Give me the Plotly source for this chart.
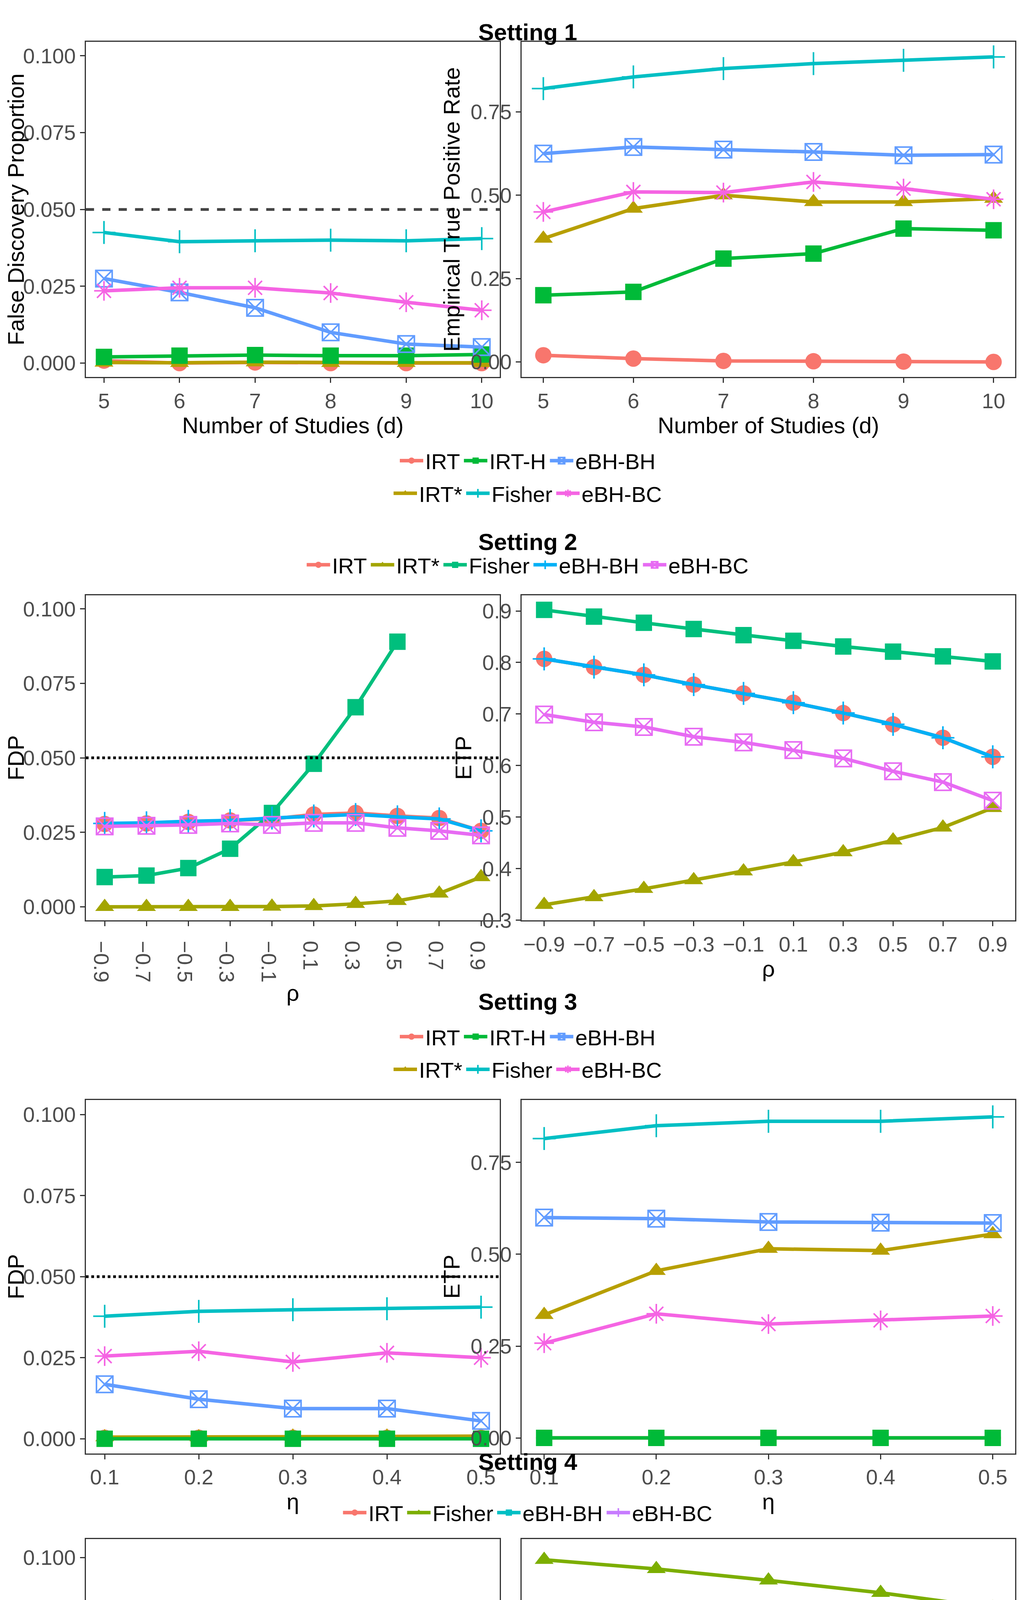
import plotly.graph_objects as go

# ---- data ----
d_vals = [5, 6, 7, 8, 9, 10]
s1_methods = ["IRT", "IRT*", "IRT-H", "Fisher", "eBH-BH", "eBH-BC"]
s1_fdp = {
    "IRT": [0.0008, 0.0000, 0.0002, 0.0000, 0.0000, 0.0000],
    "IRT*": [0.0002, 0.0001, 0.0003, 0.0001, 0.0001, 0.0001],
    "IRT-H": [0.0020, 0.0024, 0.0026, 0.0024, 0.0024, 0.0028],
    "Fisher": [0.0425, 0.0395, 0.0398, 0.0400, 0.0398, 0.0405],
    "eBH-BH": [0.0275, 0.0230, 0.0180, 0.0100, 0.0062, 0.0052],
    "eBH-BC": [0.0235, 0.0245, 0.0245, 0.0228, 0.0198, 0.0172],
}
s1_etp = {
    "IRT": [0.020, 0.010, 0.003, 0.002, 0.001, 0.000],
    "IRT*": [0.37, 0.46, 0.50, 0.48, 0.48, 0.49],
    "IRT-H": [0.20, 0.21, 0.31, 0.325, 0.40, 0.395],
    "Fisher": [0.82, 0.855, 0.88, 0.895, 0.905, 0.915],
    "eBH-BH": [0.625, 0.645, 0.637, 0.630, 0.620, 0.622],
    "eBH-BC": [0.450, 0.510, 0.508, 0.540, 0.520, 0.488],
}

rho_vals = [-0.9, -0.7, -0.5, -0.3, -0.1, 0.1, 0.3, 0.5, 0.7, 0.9]
s2_methods = ["IRT", "IRT*", "Fisher", "eBH-BH", "eBH-BC"]
s2_fdp = {
    "IRT": [0.0278, 0.0280, 0.0285, 0.0290, 0.0295, 0.0310, 0.0315, 0.0305, 0.0298, 0.0255],
    "IRT*": [0.0, 0.0, 0.0, 0.0, 0.0001, 0.0003, 0.0010, 0.0020, 0.0045, 0.0100],
    "Fisher": [0.0100, 0.0105, 0.0130, 0.0195, 0.0315, 0.0480, 0.0670, 0.0890, None, None],
    "eBH-BH": [0.0280, 0.0282, 0.0287, 0.0290, 0.0298, 0.0305, 0.0310, 0.0302, 0.0295, 0.0255],
    "eBH-BC": [0.0270, 0.0272, 0.0275, 0.0280, 0.0275, 0.0282, 0.0282, 0.0265, 0.0255, 0.0240],
}
s2_etp = {
    "IRT": [0.807, 0.791, 0.776, 0.757, 0.740, 0.722, 0.702, 0.680, 0.654, 0.617],
    "IRT*": [0.330, 0.345, 0.361, 0.378, 0.395, 0.413, 0.432, 0.455, 0.480, 0.518],
    "Fisher": [0.902, 0.889, 0.877, 0.865, 0.853, 0.842, 0.831, 0.821, 0.812, 0.802],
    "eBH-BH": [0.807, 0.791, 0.776, 0.757, 0.740, 0.722, 0.702, 0.680, 0.654, 0.617],
    "eBH-BC": [0.699, 0.684, 0.675, 0.656, 0.645, 0.630, 0.614, 0.589, 0.568, 0.532],
}

eta_vals = [0.1, 0.2, 0.3, 0.4, 0.5]
s3_fdp = {
    "IRT": [0.0003, 0.0003, 0.0003, 0.0003, 0.0003],
    "IRT*": [0.0005, 0.0005, 0.0007, 0.0007, 0.0008],
    "IRT-H": [0.0, 0.0, 0.0, 0.0, 0.0],
    "Fisher": [0.0378, 0.0393, 0.0398, 0.0401, 0.0406],
    "eBH-BH": [0.0168, 0.0122, 0.0093, 0.0093, 0.0055],
    "eBH-BC": [0.0255, 0.0270, 0.0237, 0.0265, 0.0250],
}
s3_etp = {
    "IRT": [0.0, 0.0, 0.0, 0.0, 0.0],
    "IRT*": [0.335, 0.455, 0.515, 0.510, 0.555],
    "IRT-H": [0.0, 0.0, 0.0, 0.0, 0.0],
    "Fisher": [0.815, 0.850, 0.862, 0.862, 0.874],
    "eBH-BH": [0.600, 0.597, 0.588, 0.586, 0.585],
    "eBH-BC": [0.258, 0.338, 0.310, 0.320, 0.332],
}

sigma_vals = [1.1, 1.2, 1.3, 1.4, 1.5]
s4_methods = ["IRT", "Fisher", "eBH-BH", "eBH-BC"]
s4_fdp = {
    "IRT": [0.0005, 0.0, 0.0, 0.0, 0.0],
    "Fisher": [None, None, 0.0775, 0.0510, 0.0305],
    "eBH-BH": [0.0025, 0.0005, 0.0, 0.0, 0.0],
    "eBH-BC": [0.0057, 0.0057, 0.0057, 0.0057, 0.0057],
}
s4_etp = {
    "IRT": [0.470, 0.355, 0.198, 0.080, 0.028],
    "Fisher": [0.910, 0.890, 0.865, 0.838, 0.805],
    "eBH-BH": [0.555, 0.440, 0.320, 0.200, 0.115],
    "eBH-BC": [0.560, 0.560, 0.560, 0.560, 0.560],
}

# ---- styles ----
s1_style = {
    "IRT": ("#F8766D", "circle"),
    "IRT*": ("#B79F00", "triangle-up"),
    "IRT-H": ("#00BA38", "square"),
    "Fisher": ("#00BFC4", "cross-thin-open"),
    "eBH-BH": ("#619CFF", "square-x-open"),
    "eBH-BC": ("#F564E3", "asterisk-open"),
}
s2_style = {
    "IRT": ("#F8766D", "circle"),
    "IRT*": ("#A3A500", "triangle-up"),
    "Fisher": ("#00BF7D", "square"),
    "eBH-BH": ("#00B0F6", "cross-thin-open"),
    "eBH-BC": ("#E76BF3", "square-x-open"),
}
s4_style = {
    "IRT": ("#F8766D", "circle"),
    "Fisher": ("#7CAE00", "triangle-up"),
    "eBH-BH": ("#00BFC4", "square"),
    "eBH-BC": ("#C77CFF", "cross-thin-open"),
}

FONT = "Liberation Sans"
TICK = 54
fig = go.Figure()

XL = [0.055, 0.472]
XR = [0.494, 0.991]
rows = [[0.817, 0.981], [0.551, 0.710], [0.290, 0.463], [0.031, 0.248]]


def sfx(n):
    return "" if n == 1 else str(n)


def add_series(n, x, data, styles, methods, legends, show):
    for m in methods:
        color, sym = styles[m]
        open_sym = sym.endswith("open")
        fig.add_trace(go.Scatter(
            x=x, y=data[m], name=m, mode="lines+markers",
            xaxis="x" + sfx(n), yaxis="y" + sfx(n),
            line=dict(color=color, width=9),
            marker=dict(symbol=sym, size=42, color=color,
                        line=dict(color=color, width=4 if open_sym else 0)),
            legend=legends.get(m, "legend"), showlegend=show,
            connectgaps=False,
        ))


def axes(n, dom_x, dom_y, xr, yr, xt, yt, tickvals, ticktext, ytick):
    ax = dict(domain=dom_x, range=xr, tickvals=tickvals, ticktext=ticktext,
              showgrid=False, zeroline=False, showline=True, mirror=True,
              linecolor="#333333", linewidth=3, ticks="outside", ticklen=12,
              tickwidth=3, tickcolor="#333333",
              tickfont=dict(size=TICK, color="#4D4D4D", family=FONT),
              title=dict(text=xt, font=dict(size=58, color="black", family=FONT), standoff=8),
              anchor="y" + sfx(n))
    ay = dict(domain=dom_y, range=yr, tickvals=ytick[0], ticktext=ytick[1],
              showgrid=False, zeroline=False, showline=True, mirror=True,
              linecolor="#333333", linewidth=3, ticks="outside", ticklen=12,
              tickwidth=3, tickcolor="#333333",
              tickfont=dict(size=TICK, color="#4D4D4D", family=FONT),
              title=dict(text=yt, font=dict(size=58, color="black", family=FONT), standoff=10),
              anchor="x" + sfx(n))
    fig.update_layout(**{"xaxis" + sfx(n): ax, "yaxis" + sfx(n): ay})


def hline(n, y, dash, color):
    fig.add_shape(type="line", xref="x%s domain" % sfx(n), yref="y" + sfx(n),
                  x0=0, x1=1, y0=y, y1=y,
                  line=dict(color=color, width=7, dash=dash))


fdp_ticks = ([0, 0.025, 0.05, 0.075, 0.1], ["0.000", "0.025", "0.050", "0.075", "0.100"])
etp_ticks4 = ([0, 0.25, 0.5, 0.75], ["0.00", "0.25", "0.50", "0.75"])

# Setting 1
leg1 = {"IRT": "legend", "IRT-H": "legend", "eBH-BH": "legend",
        "IRT*": "legend2", "Fisher": "legend2", "eBH-BC": "legend2"}
add_series(1, d_vals, s1_fdp, s1_style, s1_methods, leg1, True)
add_series(2, d_vals, s1_etp, s1_style, s1_methods, leg1, False)
axes(1, XL, rows[0], [4.76, 10.24], [-0.0045, 0.1045], "Number of Studies (d)",
     "False Discovery Proportion", d_vals, [str(v) for v in d_vals], fdp_ticks)
axes(2, XR, rows[0], [4.76, 10.24], [-0.045, 0.96], "Number of Studies (d)",
     "Empirical True Positive Rate", d_vals, [str(v) for v in d_vals], etp_ticks4)
hline(1, 0.05, "dash", "#444444")

# Setting 2
leg2 = {m: "legend3" for m in s2_methods}
add_series(3, rho_vals, s2_fdp, s2_style, s2_methods, leg2, True)
add_series(4, rho_vals, s2_etp, s2_style, s2_methods, leg2, False)
rho_text = ["\u22120.9", "\u22120.7", "\u22120.5", "\u22120.3", "\u22120.1", "0.1", "0.3", "0.5", "0.7", "0.9"]
axes(3, XL, rows[1], [-0.99, 0.99], [-0.0045, 0.1045], "\u03c1", "FDP", rho_vals, rho_text, fdp_ticks)
axes(4, XR, rows[1], [-0.99, 0.99], [0.3, 0.93], "\u03c1", "ETP", rho_vals, rho_text,
     ([0.3, 0.4, 0.5, 0.6, 0.7, 0.8, 0.9], ["0.3", "0.4", "0.5", "0.6", "0.7", "0.8", "0.9"]))
hline(3, 0.05, "dot", "black")

# Setting 3
leg3 = {"IRT": "legend4", "IRT-H": "legend4", "eBH-BH": "legend4",
        "IRT*": "legend5", "Fisher": "legend5", "eBH-BC": "legend5"}
add_series(5, eta_vals, s3_fdp, s1_style, s1_methods, leg3, True)
add_series(6, eta_vals, s3_etp, s1_style, s1_methods, leg3, False)
eta_text = [str(v) for v in eta_vals]
axes(5, XL, rows[2], [0.08, 0.52], [-0.0045, 0.1045], "\u03b7", "FDP", eta_vals, eta_text, fdp_ticks)
axes(6, XR, rows[2], [0.08, 0.52], [-0.042, 0.92], "\u03b7", "ETP", eta_vals, eta_text, etp_ticks4)
hline(5, 0.05, "dot", "black")

# Setting 4
leg4 = {m: "legend6" for m in s4_methods}
add_series(7, sigma_vals, s4_fdp, s4_style, s4_methods, leg4, True)
add_series(8, sigma_vals, s4_etp, s4_style, s4_methods, leg4, False)
sig_text = [str(v) for v in sigma_vals]
axes(7, XL, rows[3], [1.08, 1.52], [-0.0045, 0.1045], "\u03c3", "FDP", sigma_vals, sig_text, fdp_ticks)
axes(8, XR, rows[3], [1.08, 1.52], [-0.012, 0.955], "\u03c3", "ETP", sigma_vals, sig_text, etp_ticks4)
hline(7, 0.05, "dot", "black")

# titles
for txt, y in [("Setting 1", 0.9925), ("Setting 2", 0.743), ("Setting 3", 0.511), ("Setting 4", 0.279)]:
    fig.add_annotation(text="<b>%s</b>" % txt, x=0.5, y=y, xref="paper", yref="paper",
                       showarrow=False, font=dict(size=60, color="black", family=FONT))

legfont = dict(size=56, color="black", family=FONT)
def leg(y):
    return dict(orientation="h", x=0.5, xanchor="center", y=y, yanchor="middle",
                font=legfont, bgcolor="rgba(0,0,0,0)", itemwidth=60, tracegroupgap=0)

fig.update_layout(
    width=2615, height=5259, plot_bgcolor="white", paper_bgcolor="white",
    margin=dict(l=0, r=0, t=0, b=0), font=dict(family=FONT),
    legend=leg(0.776), legend2=leg(0.760), legend3=leg(0.725),
    legend4=leg(0.494), legend5=leg(0.478), legend6=leg(0.261),
)

fig.write_html("out.html")
